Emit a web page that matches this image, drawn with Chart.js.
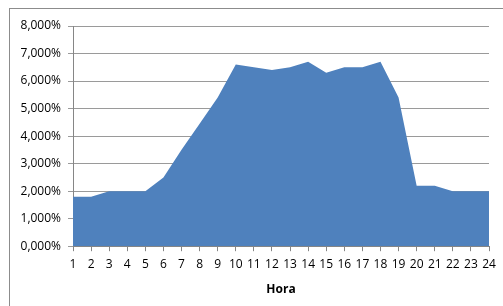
<!DOCTYPE html>
<html>
<head>
<meta charset="utf-8">
<script src="https://cdn.jsdelivr.net/npm/chart.js@4.4.0/dist/chart.umd.min.js"></script>
<style>
  html, body { margin: 0; padding: 0; background: #fff; overflow: hidden; }
  #frame { position: absolute; left: 9px; top: 8px; width: 600px; height: 400px; border: 1px solid #8c8c8c; }
  #wrap { position: absolute; left: 0; top: 0; width: 503px; height: 306px; }
</style>
</head>
<body>
<div id="frame"></div>
<div id="wrap"><canvas id="chart" width="503" height="306"></canvas></div>
<script>
// hora del dia
let horas = [1,2,3,4,5,6,7,8,9,10,11,12,13,14,15,16,17,18,19,20,21,22,23,24],
    // porcentaje por hora
    valores = [1.8,1.8,2.0,2.0,2.0,2.5,3.5,4.45,5.4,6.6,6.5,6.4,6.5,6.7,6.3,6.5,6.5,6.7,5.4,2.2,2.2,2.0,2.0,2.0],
    yMin = 0,
    yMax = 8,
    yStep = 1,
    fmt = (v) => v.toFixed(3).replace('.', ',') + '%'

Chart.defaults.font.family = "'Open Sans', 'Liberation Sans', sans-serif"
Chart.defaults.font.size = 12
Chart.defaults.color = '#000'

let myChart = new Chart(document.querySelector('#chart'), {
    type: 'line',
    data: {
        labels: horas,
        datasets: [{
            data: valores,
            fill: 'origin',
            backgroundColor: '#4f81bd',
            borderWidth: 0,
            pointRadius: 0,
            tension: 0
        }]
    },
    options: {
        responsive: false,
        animation: false,
        layout: { padding: { top: 26, right: 14, bottom: 5, left: 0 } },
        plugins: {
            legend: { display: false },
            tooltip: { enabled: false }
        },
        scales: {
            x: {
                grid: { drawOnChartArea: false, tickLength: 5, color: '#868686' },
                border: { color: '#868686' },
                ticks: { padding: 6, maxRotation: 0, autoSkip: false },
                title: { display: true, text: 'Hora', font: { weight: 'bold', size: 12 }, padding: { top: 5 } }
            },
            y: {
                min: yMin,
                max: yMax,
                afterFit: (s) => { s.width = 73 },
                grid: { tickLength: 5, color: '#9a9a9a' },
                border: { color: '#868686' },
                ticks: { stepSize: yStep, padding: 7, callback: (v) => fmt(v) }
            }
        }
    }
})
</script>
</body>
</html>
